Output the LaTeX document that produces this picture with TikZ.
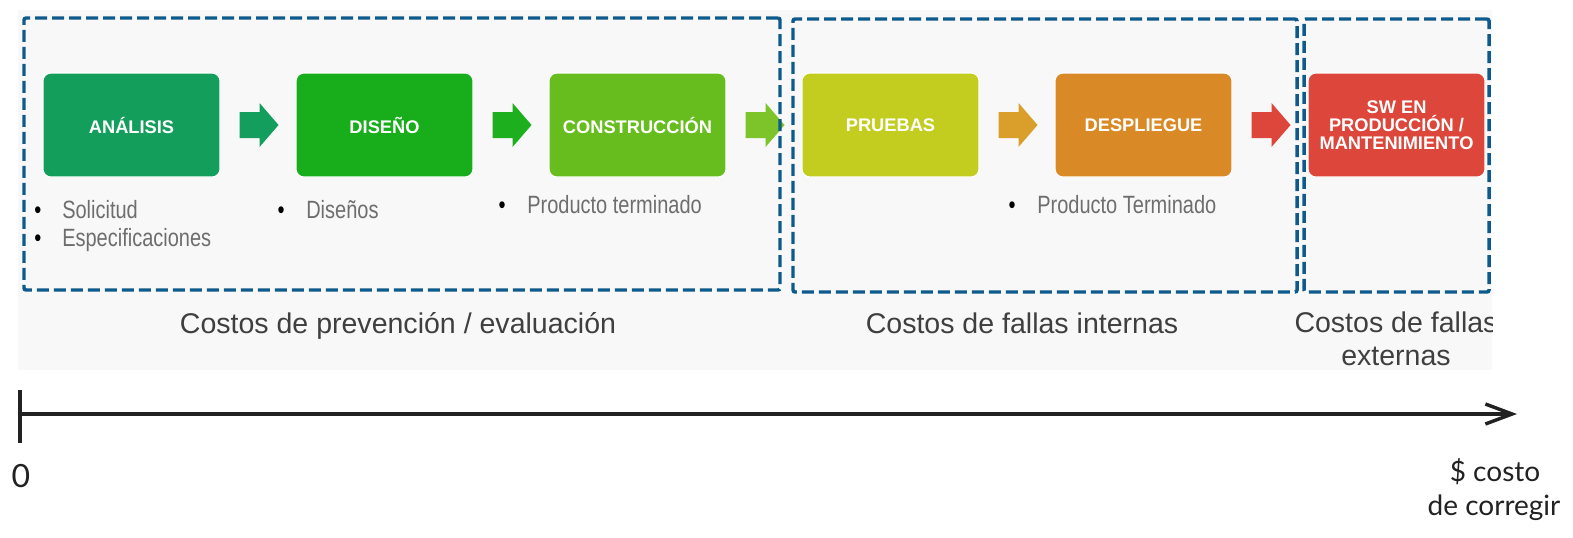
\documentclass[tikz,border=0pt]{standalone}
\usepackage{fontspec}
\setmainfont{Liberation Sans}
\newfontfamily\narrowsans[FakeStretch=0.8]{Liberation Sans}
\newfontfamily\axisfont{Lato}
\usetikzlibrary{calc,arrows.meta}
\definecolor{bgc}{HTML}{F8F8F8}
\definecolor{dashc}{HTML}{0E5A8C}
\definecolor{cana}{HTML}{139E5B}
\definecolor{cdis}{HTML}{17AD1B}
\definecolor{ccon}{HTML}{66BD1D}
\definecolor{cpru}{HTML}{C3CD20}
\definecolor{cdes}{HTML}{D98A26}
\definecolor{csw}{HTML}{DC463B}
\definecolor{aana}{HTML}{149E5D}
\definecolor{adis}{HTML}{1EAF1F}
\definecolor{acon}{HTML}{7CC42A}
\definecolor{apru}{HTML}{DA9F2A}
\definecolor{ades}{HTML}{DD463B}
\definecolor{bultxt}{HTML}{6E6E6E}
\definecolor{cattxt}{HTML}{3F3F3F}
\definecolor{axisc}{HTML}{222222}
\tikzset{
  x=0.75pt, y=-0.75pt,
  stage/.style={rectangle, rounded corners=6pt, minimum width=132.75pt, minimum height=78pt,
    inner sep=0pt, draw=white, line width=0.8pt, text=white,
    font=\fontsize{13.7}{13.6}\selectfont\bfseries, align=center},
  group/.style={rectangle, rounded corners=1.5pt, draw=dashc, line width=2.6pt,
    dash pattern=on 9pt off 3.75pt, inner sep=0pt},
  bul/.style={anchor=base, inner sep=0pt, font=\narrowsans\fontsize{18.75}{22}\selectfont, text=black},
  bultext/.style={anchor=base west, inner sep=0pt, font=\narrowsans\fontsize{18.75}{22}\selectfont, text=bultxt},
  cat/.style={anchor=base, inner sep=0pt, font=\fontsize{21.4}{24}\selectfont, text=cattxt},
  axislbl/.style={anchor=base, inner sep=0pt, font=\axisfont\fontsize{21}{24}\selectfont, text=axisc},
  axisline/.style={draw=axisc, line width=2.6pt}
}
\newcommand{\blockarrow}[2]{%
  \path[fill=#2] ($(#1.east)+(19,-13)$) -- ++(20,0) -- ++(0,-9) -- ++(19,22)
     -- ++(-19,22) -- ++(0,-9) -- ++(-20,0) -- cycle;}
\begin{document}
\begin{tikzpicture}
\useasboundingbox (0,0) rectangle (1573,537);
\fill[white] (0,0) rectangle (1573,537);
\fill[bgc] (18,10) rectangle (1492,370);

% stages
\node[stage, fill=cana] (ana) at (131.5,125) {ANÁLISIS};
\node[stage, fill=cdis] (dis) at (384.5,125) {DISEÑO};
\node[stage, fill=ccon] (con) at (637.5,125) {CONSTRUCCIÓN};
\node[stage, fill=cpru] (pru) at (890.5,125) {PRUEBAS};
\node[stage, fill=cdes] (des) at (1143.5,125) {DESPLIEGUE};
\node[stage, fill=csw]  (sw)  at (1396.5,125) {SW EN\\PRODUCCIÓN /\\MANTENIMIENTO};

% block arrows between stages
\blockarrow{ana}{aana}
\blockarrow{dis}{adis}
\blockarrow{con}{acon}
\blockarrow{pru}{apru}
\blockarrow{des}{ades}

% bullet items
\node[bul] (b1) at (38,218) {•};
\node[bultext] (t1) at (62,218) {Solicitud};
\node[bul] (b2) at (38,246) {•};
\node[bultext] (t2) at (62,246) {Especificaciones};
\node[bul] (b3) at (281,218) {•};
\node[bultext] (t3) at (306,218) {Diseños};
\node[bul] (b4) at (502,213) {•};
\node[bultext] (t4) at (527,213) {Producto terminado};
\node[bul] (b5) at (1012,213) {•};
\node[bultext] (t5) at (1037,213) {Producto Terminado};

% dashed groups
\node[group, minimum width=567pt, minimum height=204pt] (g1) at (402,154) {};
\node[group, minimum width=378pt, minimum height=204.75pt] (g2) at (1045,155.5) {};
\node[group, minimum width=138.75pt, minimum height=204.75pt] (g3) at (1396.5,155.5) {};

% category labels
\node[cat] (c1) at (398,333) {Costos de prevención / evaluación};
\node[cat] (c2) at (1022,333) {Costos de fallas internas};
\begin{scope}
\clip (18,10) rectangle (1492,370);
\node[cat] (c3) at (1396,332) {Costos de fallas};
\end{scope}
\node[cat] (c4) at (1396,365) {externas};

% axis
\coordinate (tt) at (20,390);
\coordinate (tb) at (20,443);
\coordinate (o) at (20,414);
\coordinate (e) at (1517,414);
\draw[axisline] (tt) -- (tb);
\draw[axisline, -{Straight Barb[length=20pt,width=15pt,line width=2.6pt]}] (o) -- (e);
\node[axislbl, font=\axisfont\fontsize{24}{26}\selectfont] (zero) at (21,487) {0};
\node[axislbl] (l1) at (1495,481) {\$ costo};
\node[axislbl] (l2) at (1494,515) {de corregir};
\end{tikzpicture}
\end{document}
